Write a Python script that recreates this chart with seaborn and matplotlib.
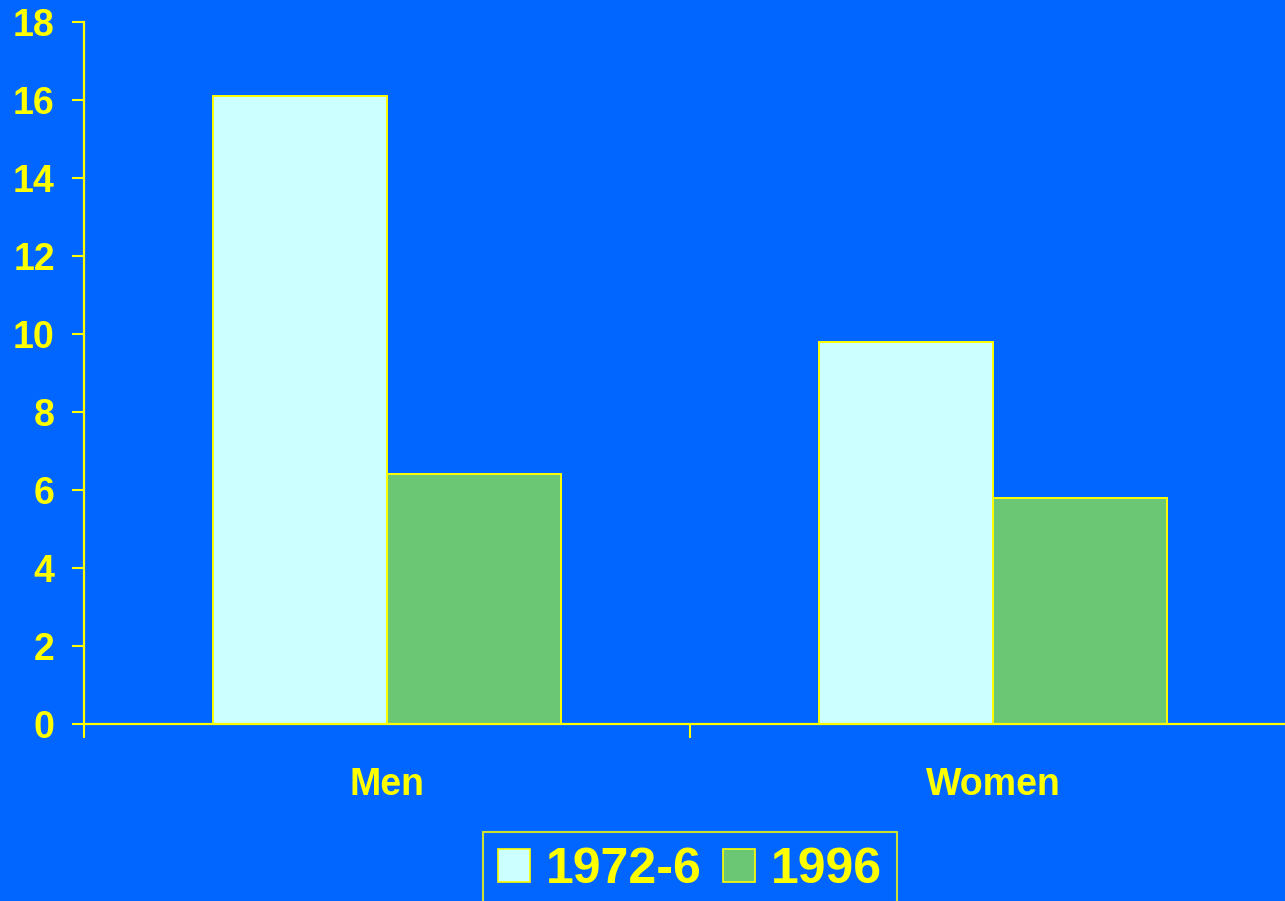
import matplotlib
matplotlib.use("Agg")
import matplotlib.pyplot as plt
from matplotlib.patches import Patch
import pandas as pd
import seaborn as sns

# data
groups = ["Men", "Women"]
periods = ["1972-6", "1996"]
values_1972 = [16.1, 9.8]
values_1996 = [6.4, 5.8]
y_ticks = [0, 2, 4, 6, 8, 10, 12, 14, 16, 18]

bg = "#0066FF"
yellow = "#FFFF00"
colors = ["#CCFFFF", "#6BC774"]

df = pd.DataFrame({
    "group": groups * 2,
    "period": [periods[0]] * 2 + [periods[1]] * 2,
    "value": values_1972 + values_1996,
})

sns.set_style("white")
plt.rcParams["font.family"] = ["Liberation Sans", "DejaVu Sans"]
plt.rcParams["font.weight"] = "bold"

W, H = 1285, 901
fig = plt.figure(figsize=(W / 100, H / 100), dpi=100, facecolor=bg)
# axes runs off the right edge of the slide, as in the reference
ax = fig.add_axes([84 / W, (H - 724) / H, (1296 - 84) / W, 702 / H])
ax.set_facecolor(bg)

sns.barplot(data=df, x="group", y="value", hue="period", order=groups,
            hue_order=periods, palette=colors, width=0.573, saturation=1,
            edgecolor=yellow, linewidth=1.4, ax=ax, legend=False)

ax.set_xlim(-0.5, 1.5)
ax.set_ylim(0, 18)
ax.set_yticks(y_ticks)
ax.set_yticklabels([str(t) for t in y_ticks], color=yellow, fontsize=27,
                   fontweight="bold")
ax.tick_params(axis="y", length=9, width=1.5, color=yellow, pad=12,
               direction="out", left=True)

# boundary ticks on the x axis, group labels in between
ax.set_xticks([-0.5, 0.5, 1.5])
ax.set_xticklabels([])
ax.set_xticks([0, 1], minor=True)
ax.set_xticklabels(groups, minor=True, color=yellow, fontsize=27,
                   fontweight="bold")
ax.tick_params(axis="x", which="major", length=10, width=1.5, color=yellow,
               direction="out", bottom=True)
ax.tick_params(axis="x", which="minor", length=0, pad=31)

ax.set_xlabel("")
ax.set_ylabel("")
for side in ["top", "right"]:
    ax.spines[side].set_visible(False)
for side in ["left", "bottom"]:
    ax.spines[side].set_color(yellow)
    ax.spines[side].set_linewidth(1.6)

handles = [Patch(facecolor=c, edgecolor=yellow, linewidth=1.2) for c in colors]
leg = fig.legend(handles, periods, loc="upper center", ncol=2,
                 bbox_to_anchor=(690 / W, 1 - 832 / H),
                 bbox_transform=fig.transFigure,
                 prop={"size": 36, "weight": "bold"},
                 frameon=True, fancybox=False, facecolor=bg,
                 edgecolor=yellow, handlelength=0.64, handleheight=0.64,
                 handletextpad=0.32, columnspacing=0.44, borderpad=0.3,
                 borderaxespad=0)
leg.get_frame().set_linewidth(1.5)
for t in leg.get_texts():
    t.set_color(yellow)

fig.savefig("out.png", dpi=100, facecolor=bg)
